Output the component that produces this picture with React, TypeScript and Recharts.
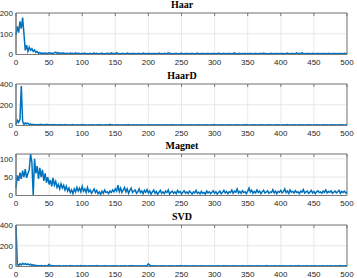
import React from "react";
import { LineChart, Line, XAxis, YAxis, CartesianGrid, ReferenceArea } from "recharts";

// sampled every 2 units along x (0..500)
const STEP = 2;
const xTicks = [0, 50, 100, 150, 200, 250, 300, 350, 400, 450, 500];

const haar = [
  95, 135, 105, 160, 125, 178, 100, 20, 45, 15,
  35, 20, 28, 15, 22, 10, 14, 6, 9, 5,
  7, 4, 8, 5, 6, 9, 4, 7, 5, 8,
  11, 6, 9, 4, 7, 5, 8, 3, 6, 5,
  4, 7, 5, 6, 3, 8, 4, 6, 5, 3,
  6, 4, 7, 3, 5, 4, 6, 3, 5, 7,
  4, 6, 3, 5, 4, 7, 3, 5, 4, 6,
  5, 3, 8, 4, 6, 3, 9, 4, 5, 3,
  6, 4, 5, 3, 7, 4, 5, 3, 6, 4,
  5, 3, 6, 4, 5, 3, 7, 4, 5, 3,
  6, 4, 5, 3, 6, 4, 5, 3, 7, 4,
  5, 3, 6, 4, 5, 8, 4, 6, 3, 5,
  4, 6, 3, 5, 4, 7, 3, 5, 4, 6,
  3, 5, 4, 6, 3, 5, 4, 7, 3, 5,
  4, 6, 3, 5, 4, 6, 3, 5, 4, 6,
  3, 5, 4, 7, 3, 5, 4, 6, 3, 5,
  4, 6, 3, 5, 4, 8, 3, 5, 4, 6,
  3, 5, 4, 6, 3, 5, 4, 6, 3, 5,
  4, 6, 3, 5, 4, 6, 3, 7, 4, 5,
  3, 5, 4, 6, 3, 5, 4, 6, 3, 5,
  4, 6, 3, 5, 4, 7, 3, 5, 4, 6,
  3, 5, 8, 4, 6, 3, 9, 4, 5, 3,
  6, 4, 5, 3, 6, 4, 5, 3, 6, 4,
  5, 3, 6, 4, 5, 3, 6, 4, 5, 3,
  6, 4, 5, 3, 6, 4, 5, 3, 6, 4,
  5,
];

const haarD = [
  10, 50, 30, 60, 380, 40, 8, 25, 15, 22,
  10, 14, 8, 12, 6, 10, 5, 9, 7, 12,
  6, 9, 5, 11, 7, 8, 5, 10, 6, 9,
  5, 8, 6, 10, 5, 7, 4, 9, 6, 8,
  4, 7, 5, 9, 3, 8, 5, 6, 4, 7,
  5, 9, 4, 6, 3, 8, 5, 7, 4, 6,
  3, 7, 5, 9, 4, 6, 3, 8, 5, 6,
  4, 12, 5, 7, 3, 6, 4, 8, 5, 6,
  3, 7, 4, 6, 5, 9, 3, 6, 4, 7,
  5, 6, 3, 8, 4, 6, 5, 7, 3, 6,
  4, 8, 5, 6, 3, 7, 4, 6, 5, 8,
  3, 6, 4, 7, 5, 6, 3, 9, 4, 6,
  5, 7, 3, 6, 4, 8, 5, 6, 3, 7,
  4, 6, 5, 8, 3, 6, 4, 7, 5, 6,
  3, 8, 4, 6, 5, 7, 3, 6, 4, 9,
  5, 6, 3, 7, 4, 6, 5, 8, 3, 6,
  4, 7, 5, 6, 3, 8, 4, 6, 5, 7,
  3, 6, 4, 9, 5, 6, 3, 7, 4, 6,
  5, 8, 3, 6, 4, 7, 5, 6, 3, 8,
  4, 6, 5, 7, 3, 6, 4, 8, 5, 6,
  3, 7, 4, 6, 5, 9, 3, 6, 4, 7,
  5, 6, 3, 8, 4, 6, 5, 7, 3, 6,
  4, 8, 5, 6, 3, 7, 4, 6, 5, 8,
  3, 6, 4, 7, 5, 6, 3, 8, 4, 6,
  5, 7, 3, 6, 4, 8, 5, 6, 3, 7,
  5,
];

const magnet = [
  20, 55, 40, 62, 45, 68, 50, 72, 48, 60,
  70, 113, 90, 0, 100, 60, 80, 45, 75, 50,
  70, 40, 60, 35, 50, 30, 42, 25, 48, 28,
  38, 22, 30, 18, 32, 20, 28, 15, 25, 12,
  20, 8, 15, 5, 18, 10, 22, 12, 20, 10,
  25, 12, 18, 8, 22, 10, 15, 6, 12, 18,
  8, 14, 5, 10, 3, 12, 6, 15, 8, 10,
  5, 12, 8, 15, 10, 18, 12, 28, 10, 20,
  8, 15, 22, 10, 18, 6, 14, 20, 8, 12,
  15, 6, 10, 18, 8, 12, 5, 14, 9, 16,
  7, 12, 4, 10, 15, 6, 11, 3, 9, 14,
  6, 10, 5, 12, 8, 15, 4, 9, 12, 6,
  10, 5, 14, 8, 11, 4, 9, 13, 6, 10,
  5, 12, 8, 4, 10, 7, 14, 6, 9, 5,
  11, 6, 8, 4, 12, 7, 10, 5, 9, 13,
  6, 10, 4, 8, 12, 5, 9, 14, 7, 11,
  5, 10, 8, 15, 6, 12, 9, 18, 7, 11,
  6, 13, 8, 10, 5, 12, 20, 9, 14, 6,
  11, 7, 15, 8, 12, 5, 10, 14, 7, 9,
  13, 6, 10, 8, 16, 7, 12, 5, 11, 9,
  14, 7, 10, 18, 8, 12, 6, 15, 9, 11,
  7, 13, 8, 10, 5, 12, 9, 16, 7, 10,
  12, 6, 9, 14, 7, 11, 5, 10, 13, 8,
  10, 6, 12, 8, 15, 7, 11, 9, 13, 6,
  9, 12, 7, 10, 14, 6, 11, 8, 12, 7,
  10,
];

const svd = [
  400, 20, 10, 25, 15, 30, 20, 28, 18, 25,
  15, 22, 10, 18, 8, 12, 6, 10, 5, 9,
  7, 5, 9, 4, 8, 20, 6, 10, 5, 8,
  4, 7, 5, 9, 3, 6, 8, 5, 7, 4,
  6, 9, 5, 7, 3, 8, 4, 6, 5, 9,
  4, 7, 5, 6, 3, 8, 5, 7, 4, 6,
  5, 9, 4, 6, 3, 7, 5, 8, 4, 6,
  3, 7, 5, 6, 4, 8, 5, 7, 3, 6,
  5, 8, 4, 7, 3, 6, 5, 9, 4, 6,
  5, 7, 3, 8, 4, 6, 5, 7, 3, 10,
  25, 12, 6, 8, 4, 7, 5, 6, 3, 8,
  4, 6, 5, 7, 3, 6, 4, 8, 5, 6,
  3, 7, 4, 6, 5, 9, 3, 6, 4, 7,
  5, 6, 3, 8, 4, 6, 5, 7, 3, 6,
  4, 8, 5, 6, 3, 7, 4, 6, 5, 8,
  3, 6, 4, 7, 5, 6, 3, 9, 4, 6,
  5, 7, 3, 6, 4, 8, 5, 6, 3, 7,
  4, 6, 5, 8, 3, 6, 4, 7, 5, 6,
  3, 8, 4, 6, 5, 7, 3, 6, 4, 9,
  5, 6, 3, 7, 4, 6, 5, 8, 3, 6,
  4, 7, 5, 6, 3, 8, 4, 6, 5, 7,
  3, 6, 4, 9, 5, 6, 3, 7, 4, 6,
  5, 8, 3, 6, 4, 7, 5, 6, 3, 8,
  4, 6, 5, 7, 3, 6, 4, 8, 5, 6,
  3, 7, 4, 6, 5, 9, 3, 6, 4, 7,
  5,
];

const panels = [
  { title: "Haar", values: haar, yMax: 200, yTicks: [0, 100, 200] },
  { title: "HaarD", values: haarD, yMax: 400, yTicks: [0, 200, 400] },
  { title: "Magnet", values: magnet, yMax: 113, yTicks: [0, 50, 100] },
  { title: "SVD", values: svd, yMax: 400, yTicks: [0, 200, 400] },
];

const W = 357;
const H = 71;
const PANEL_GAP = 70.7;
const MARGIN = { top: 12, right: 9, bottom: 2.5, left: 0 };
const LINE = "#0072BD";
const AXIS = "#7a7a7a";
const tickFont = { fontSize: 8, fill: "#262626", fontFamily: "Liberation Sans, Arial, sans-serif" };

function Panel({ title, values, yMax, yTicks, top }: any) {
  const data = values.map((v: number, i: number) => ({ x: i * STEP, v }));
  return (
    <div style={{ position: "absolute", left: 0, top, width: W, height: H }}>
      <div
        style={{
          position: "absolute",
          left: 16,
          width: W - 16 - MARGIN.right,
          top: 0,
          textAlign: "center",
          fontFamily: "Liberation Serif, Times New Roman, serif",
          fontWeight: "bold",
          fontSize: 10,
          lineHeight: "10px",
          color: "#000",
          zIndex: 2,
        }}
      >
        {title}
      </div>
      <LineChart width={W} height={H} data={data} margin={MARGIN}>
        <CartesianGrid stroke="#e3e3e3" strokeWidth={0.8} />
        <XAxis
          dataKey="x"
          type="number"
          domain={[0, 500]}
          ticks={xTicks}
          interval={0}
          height={14}
          tickLine={false}
          tickSize={4}
          tickMargin={1}
          axisLine={{ stroke: AXIS }}
          tick={tickFont}
        />
        <XAxis
          xAxisId="top"
          dataKey="x"
          type="number"
          domain={[0, 500]}
          ticks={xTicks}
          interval={0}
          orientation="top"
          height={1}
          tick={() => <g />}
          tickSize={-3}
          tickLine={{ stroke: AXIS }}
          axisLine={false}
        />
        <YAxis
          type="number"
          domain={[0, yMax]}
          ticks={yTicks}
          interval={0}
          width={16}
          tickLine={false}
          tickSize={2}
          tickMargin={1}
          axisLine={{ stroke: AXIS }}
          tick={tickFont}
          allowDataOverflow
        />
        <YAxis
          yAxisId="r"
          type="number"
          orientation="right"
          domain={[0, yMax]}
          ticks={yTicks}
          interval={0}
          width={1}
          tick={() => <g />}
          tickSize={-3}
          tickLine={{ stroke: AXIS }}
          axisLine={false}
        />
        <Line
          type="linear"
          dataKey="v"
          stroke={LINE}
          strokeWidth={1.5}
          dot={false}
          isAnimationActive={false}
        />
        <ReferenceArea
          x1={0}
          x2={500}
          y1={0}
          y2={yMax}
          fill="none"
          fillOpacity={0}
          stroke={AXIS}
          strokeWidth={1}
          ifOverflow="visible"
        />
      </LineChart>
    </div>
  );
}

export default function App() {
  return (
    <div style={{ position: "absolute", left: 0, top: 0, width: W, height: 278, background: "#fff" }}>
      {panels.map((p, i) => (
        <Panel key={p.title} {...p} top={Math.round(PANEL_GAP * i)} />
      ))}
    </div>
  );
}
